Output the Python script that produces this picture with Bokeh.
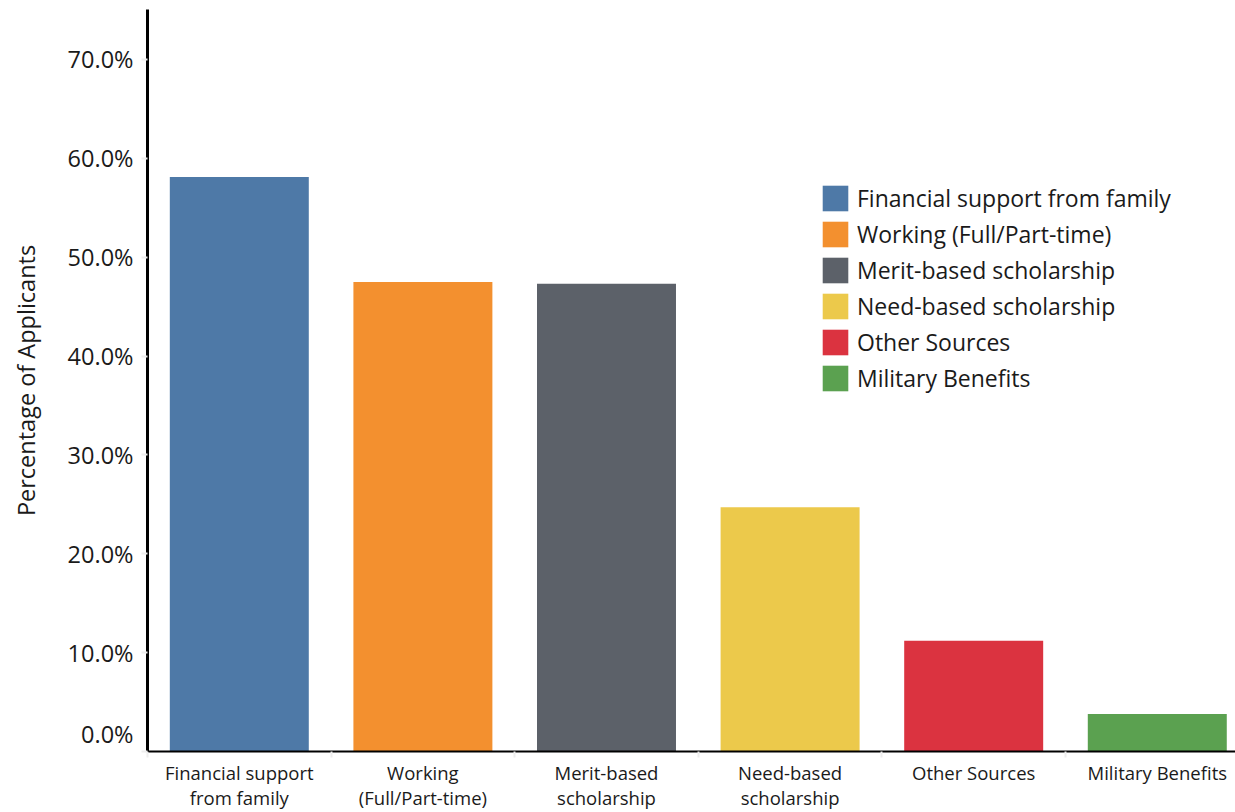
from bokeh.plotting import figure
from bokeh.models import ColumnDataSource, Range1d, FixedTicker, CustomJSTickFormatter, Legend, LegendItem
from bokeh.embed import file_html
from bokeh.resources import INLINE

categories = ["Financial support from family", "Working (Full/Part-time)", "Merit-based scholarship",
              "Need-based scholarship", "Other Sources", "Military Benefits"]
tick_labels = ["Financial support\nfrom family", "Working\n(Full/Part-time)", "Merit-based\nscholarship",
               "Need-based\nscholarship", "Other Sources", "Military Benefits"]
values = [58.1, 47.5, 47.3, 24.7, 11.2, 3.8]
colors = ["#4e79a7", "#f3902f", "#5c6169", "#ecc94b", "#db3340", "#5ba150"]
y_ticks = [0, 10, 20, 30, 40, 50, 60, 70]

FONT = "Open Sans"
xs = [i + 0.5 for i in range(len(categories))]
bounds = [float(i) for i in range(len(categories) + 1)]

src = ColumnDataSource(dict(x=xs, top=values, color=colors, cat=categories))

p = figure(width=1235, height=812, output_backend="svg", toolbar_location=None,
           x_range=Range1d(0, 5.926), y_range=Range1d(0, 75.05),
           min_border_left=147, min_border_right=0, min_border_top=9, min_border_bottom=60)
p.outline_line_color = None
p.xgrid.visible = False
p.ygrid.visible = False
p.background_fill_color = "white"
p.border_fill_color = "white"

r = p.vbar(x="x", top="top", bottom=0, width=0.757, color="color", line_color=None, source=src)

# x axis
xa = p.xaxis[0]
xa.ticker = FixedTicker(ticks=xs, minor_ticks=bounds)
xa.major_label_overrides = {x: t for x, t in zip(xs, tick_labels)}
xa.major_tick_out = 0
xa.major_tick_in = 0
xa.minor_tick_out = 6
xa.minor_tick_in = 0
xa.minor_tick_line_color = "#eeeeee"
xa.minor_tick_line_width = 2
xa.axis_line_color = "black"
xa.axis_line_width = 2
xa.major_label_text_font = FONT
xa.major_label_text_font_size = "18.5px"
xa.major_label_text_line_height = 1.0
xa.major_label_text_color = "#1a1a1a"
xa.major_label_standoff = 2

# y axis: the zero label sits slightly above the axis as in the original
label_ticks = [1.72] + y_ticks[1:]
ya = p.yaxis[0]
ya.ticker = FixedTicker(ticks=label_ticks, minor_ticks=y_ticks)
ya.formatter = CustomJSTickFormatter(code="return tick < 5 ? '0.0%' : tick.toFixed(1) + '%';")
ya.major_tick_in = 0
ya.major_tick_out = 6
ya.major_tick_line_color = None
ya.minor_tick_in = 0
ya.minor_tick_out = 6
ya.minor_tick_line_color = "#eeeeee"
ya.minor_tick_line_width = 2
ya.major_label_standoff = 8
ya.axis_line_color = "black"
ya.axis_line_width = 3
ya.major_label_text_font = FONT
ya.major_label_text_font_size = "23.5px"
ya.major_label_text_color = "#1a1a1a"
ya.axis_label = "Percentage of Applicants"
ya.axis_label_text_font = FONT
ya.axis_label_text_font_size = "23.5px"
ya.axis_label_text_font_style = "normal"
ya.axis_label_text_color = "#1a1a1a"
ya.axis_label_standoff = 23

items = [LegendItem(label=c, renderers=[r], index=i) for i, c in enumerate(categories)]
leg = Legend(items=items, location=(672, 357), orientation="vertical",
             glyph_width=32, glyph_height=32, label_height=32, spacing=4, label_standoff=6,
             padding=0, margin=0, border_line_color=None, background_fill_alpha=0,
             label_text_font=FONT, label_text_font_size="23px", label_text_color="#1a1a1a")
p.add_layout(leg, "center")

open("out.html", "w").write(file_html(p, INLINE))
